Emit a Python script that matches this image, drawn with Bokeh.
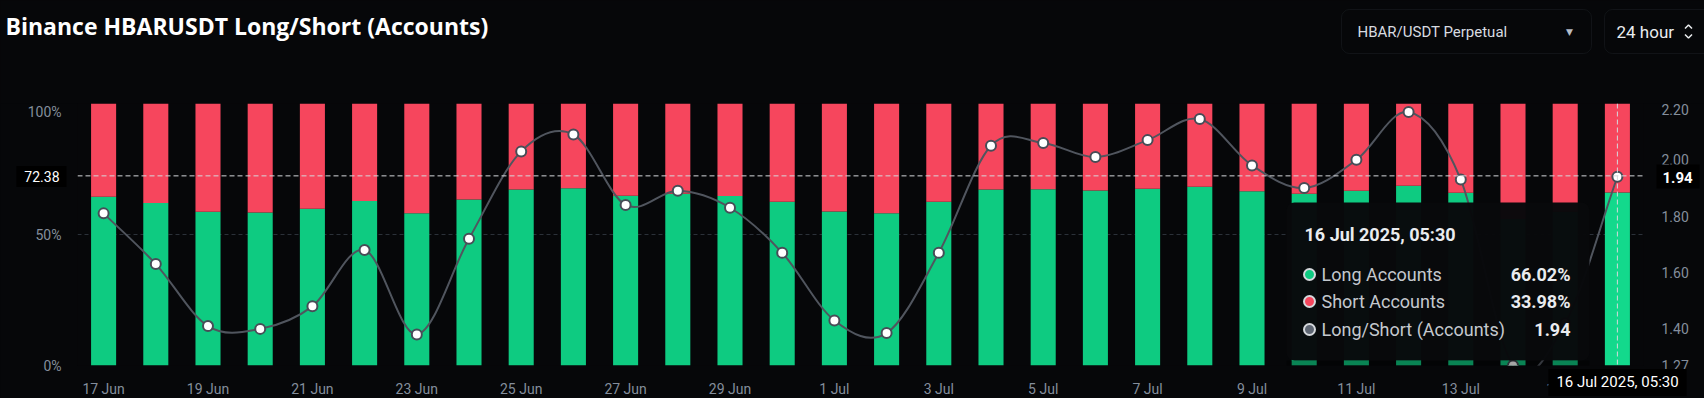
from bokeh.plotting import figure
from bokeh.layouts import column
from bokeh.models import (ColumnDataSource, Range1d, LinearAxis, FixedTicker,
                          PrintfTickFormatter, Span, Label, BoxAnnotation,
                          GlobalInlineStyleSheet)
from bokeh.embed import file_html
from bokeh.resources import INLINE

# ---------------- data ----------------
dates = ["17 Jun", "18 Jun", "19 Jun", "20 Jun", "21 Jun", "22 Jun", "23 Jun", "24 Jun",
         "25 Jun", "26 Jun", "27 Jun", "28 Jun", "29 Jun", "30 Jun", "1 Jul", "2 Jul",
         "3 Jul", "4 Jul", "5 Jul", "6 Jul", "7 Jul", "8 Jul", "9 Jul", "10 Jul",
         "11 Jul", "12 Jul", "13 Jul", "14 Jul", "15 Jul", "16 Jul"]
long_pct = [64.4, 62.0, 58.7, 58.4, 59.8, 62.8, 58.1, 63.4, 67.2, 67.7,
            64.8, 65.6, 64.7, 62.5, 58.8, 58.1, 62.5, 67.2, 67.3, 66.8,
            67.5, 68.2, 66.5, 65.6, 66.7, 68.6, 65.9, 55.9, 58.7, 66.02]
short_pct = [35.6, 38.0, 41.3, 41.6, 40.2, 37.2, 41.9, 36.6, 32.8, 32.3,
             35.2, 34.4, 35.3, 37.5, 41.2, 41.9, 37.5, 32.8, 32.7, 33.2,
             32.5, 31.8, 33.5, 34.4, 33.3, 31.4, 34.1, 44.1, 41.3, 33.98]
ls_ratio = [1.81, 1.63, 1.41, 1.40, 1.48, 1.68, 1.38, 1.72, 2.03, 2.09,
            1.84, 1.89, 1.83, 1.67, 1.43, 1.385, 1.67, 2.05, 2.06, 2.01,
            2.07, 2.145, 1.98, 1.90, 2.00, 2.17, 1.93, 1.27, 1.42, 1.94]
pct_ticks = [0, 50, 100]
ratio_ticks = [1.27, 1.40, 1.60, 1.80, 2.00, 2.20]
hover_index = 29
hover_time = "16 Jul 2025, 05:30"
cursor_pct = 72.38
cursor_ratio = 1.94
title_text = "Binance HBARUSDT Long/Short (Accounts)"
symbol_text = "HBAR/USDT Perpetual"
period_text = "24 hour"

# ---------------- style ----------------
BG = "#060709"
GREEN = "#0ecb81"
GREEN_HI = "#13d98c"
RED = "#f6465d"
GRID = "#2b3139"
AXIS_TXT = "#848e9c"
LINE = "#50555e"
FONT = "Roboto"

W, H = 1704, 397
HDR_H = 103
FL, FT, FW, FH = 77, 103, 1566, 262
N = len(dates)


def dx(ax):
    return -0.5 + (ax - FL) / FW * N


def dy(ay):
    return (FT + FH - ay) / FH * 100.0


def plain_fig(height, bg):
    f = figure(width=W, height=height, min_border=0, output_backend="svg",
               toolbar_location=None, title_location=None,
               x_axis_location=None, y_axis_location=None, frame_align=False,
               x_range=Range1d(0, W), y_range=Range1d(0, height),
               background_fill_color=bg, border_fill_color=bg, outline_line_color=None)
    f.grid.visible = False
    return f


def plab(fig_h, text, ax, ay, size, color, style="normal", align="left", font=FONT, **kw):
    return Label(x=ax, y=fig_h - ay, text=text, text_font=font,
                 text_font_size=f"{size}px", text_color=color, text_font_style=style,
                 text_align=align, text_baseline="middle", **kw)


def flab(text, ax, ay, size, color, style="normal", align="left", **kw):
    return Label(x=ax - FL, y=FT + FH - ay, x_units="screen", y_units="screen",
                 text=text, text_font=FONT, text_font_size=f"{size}px",
                 text_color=color, text_font_style=style, text_align=align,
                 text_baseline="middle", **kw)


# ---------------- header ----------------
hdr = plain_fig(HDR_H, BG)
hdr.add_layout(plab(HDR_H, title_text, 5, 25, 23, "#ffffff", style="bold", font="Open Sans"))
hdr.add_layout(BoxAnnotation(left=1341, right=1591, top=HDR_H - 9, bottom=HDR_H - 53,
                             fill_color=None, line_color="#2b3139", line_width=1,
                             border_radius=8))
hdr.add_layout(plab(HDR_H, symbol_text, 1357, 31, 15, "#d8dbe0"))
hdr.add_layout(plab(HDR_H, "\u25bc", 1569, 31, 9, "#b7bdc6", align="center", font="DejaVu Sans"))
hdr.add_layout(BoxAnnotation(left=1604, right=1730, top=HDR_H - 9, bottom=HDR_H - 53,
                             fill_color=None, line_color="#2b3139", line_width=1,
                             border_radius=8))
hdr.add_layout(plab(HDR_H, period_text, 1616, 31, 17, "#eaecef"))
# up / down chevrons of the period selector
hdr.multi_line(xs=[[1684.5, 1688, 1691.5], [1684.5, 1688, 1691.5]],
               ys=[[HDR_H - 28, HDR_H - 24.5, HDR_H - 28], [HDR_H - 34, HDR_H - 37.5, HDR_H - 34]],
               line_color="#eaecef", line_width=1.5)

# ---------------- main chart ----------------
chart = figure(frame_width=FW, frame_height=FH, min_border_left=FL,
               min_border_right=W - FL - FW, min_border_top=0,
               min_border_bottom=H - HDR_H - FH, output_backend="svg",
               toolbar_location=None, title_location=None, frame_align=False,
               x_range=Range1d(-0.5, N - 0.5), y_range=Range1d(0, 100),
               background_fill_color=BG, border_fill_color=BG, outline_line_color=None)
chart.extra_y_ranges = {"ratio": Range1d(ratio_ticks[0], ratio_ticks[-1])}

xs = list(range(N))
src = ColumnDataSource(dict(
    x=xs,
    long=long_pct,
    top=[l + s for l, s in zip(long_pct, short_pct)],
    gfill=[GREEN_HI if i == hover_index else GREEN for i in xs],
    ratio=ls_ratio,
))

chart.vbar(x="x", width=0.48, bottom=0, top="long", fill_color="gfill", line_color=None, source=src)
chart.vbar(x="x", width=0.48, bottom="long", top="top", fill_color=RED, line_color=None, source=src)


def tangent(i):
    if i == 0:
        return ls_ratio[1] - ls_ratio[0]
    if i == N - 1:
        return ls_ratio[N - 1] - ls_ratio[N - 2]
    return (ls_ratio[i + 1] - ls_ratio[i - 1]) / 2.0


seg = dict(x0=[], y0=[], x1=[], y1=[], cx0=[], cy0=[], cx1=[], cy1=[])
for i in range(N - 1):
    seg["x0"].append(i); seg["y0"].append(ls_ratio[i])
    seg["x1"].append(i + 1); seg["y1"].append(ls_ratio[i + 1])
    seg["cx0"].append(i + 1 / 3); seg["cy0"].append(ls_ratio[i] + tangent(i) / 3)
    seg["cx1"].append(i + 1 - 1 / 3); seg["cy1"].append(ls_ratio[i + 1] - tangent(i + 1) / 3)
chart.bezier(x0="x0", y0="y0", x1="x1", y1="y1", cx0="cx0", cy0="cy0", cx1="cx1", cy1="cy1",
             source=ColumnDataSource(seg), line_color=LINE, line_width=2, y_range_name="ratio")
chart.scatter(x="x", y="ratio", source=src, size=10, fill_color="white", line_color="#474d57",
              line_width=2, y_range_name="ratio")

chart.xaxis.ticker = FixedTicker(ticks=xs[::2])
chart.xaxis.major_label_overrides = {i: dates[i] for i in xs[::2]}
chart.yaxis.ticker = FixedTicker(ticks=pct_ticks)
chart.yaxis.formatter = PrintfTickFormatter(format="%d%%")
chart.yaxis.major_label_standoff = 10
chart.xaxis.major_label_standoff = 9

ax_r = LinearAxis(y_range_name="ratio", ticker=FixedTicker(ticks=ratio_ticks),
                  formatter=PrintfTickFormatter(format="%.2f"))
ax_r.major_label_standoff = 12
chart.add_layout(ax_r, "right")

for a in [chart.xaxis[0], chart.yaxis[0], ax_r]:
    a.axis_line_color = None
    a.major_tick_line_color = None
    a.minor_tick_line_color = None
    a.major_label_text_color = AXIS_TXT
    a.major_label_text_font = FONT
    a.major_label_text_font_size = "14px"

chart.xgrid.visible = False
chart.ygrid.grid_line_color = GRID
chart.ygrid.grid_line_dash = "4 3"
chart.ygrid.grid_line_width = 1

# tooltip panel (with its soft shadow below)
chart.add_layout(BoxAnnotation(left=dx(1286), right=dx(1589), top=dy(360), bottom=dy(366),
                               fill_color="#000000", fill_alpha=0.35, line_color=None))
chart.add_layout(BoxAnnotation(left=dx(1286), right=dx(1589), top=dy(202), bottom=dy(360),
                               fill_color="#08090b", fill_alpha=0.98, line_color=None,
                               border_radius=8))

# crosshair lines
chart.add_layout(Span(location=hover_index, dimension="height", line_color="#d5d8dc",
                      line_dash="5 3", line_width=1))
chart.add_layout(Span(location=cursor_pct, dimension="width", line_color="#d5d8dc",
                      line_dash="5 3", line_width=1))

# tooltip content
chart.add_layout(flab(hover_time, 1304, 234, 18, "#eaecef", style="bold"))
rows = [("Long Accounts", f"{long_pct[hover_index]:.2f}%", GREEN, 274),
        ("Short Accounts", f"{short_pct[hover_index]:.2f}%", RED, 301),
        ("Long/Short (Accounts)", f"{ls_ratio[hover_index]:.2f}", "#5e6673", 329)]
for name, val, col, ay in rows:
    chart.add_layout(flab(name, 1321, ay, 18, "#c4c8ce"))
    chart.add_layout(flab(val, 1570, ay, 18, "#eaecef", style="bold", align="right"))
chart.scatter(x=[dx(1309)] * 3, y=[dy(r[3]) for r in rows], size=11,
              fill_color=[r[2] for r in rows], line_color="#d5d8dc", line_width=2,
              level="overlay")

# ---------------- crosshair value tags (transparent overlay) ----------------
ovl = plain_fig(H, None)
ovl.css_classes = ["ovl"]
ovl.styles = {"position": "absolute", "left": "0px", "top": "0px"}
ovl.add_layout(plab(H, f"{cursor_pct:.2f}", 66, 176, 14, "#ffffff", align="right",
                    background_fill_color="#000000",
                    padding=dict(left=8, right=7, top=5, bottom=5)))
ovl.add_layout(plab(H, f"{cursor_ratio:.2f}", 1656, 176, 15, "#ffffff", style="bold",
                    background_fill_color="#000000",
                    padding=dict(left=6, right=7, top=7, bottom=6)))
ovl.add_layout(plab(H, hover_time, 1617, 382, 15, "#ffffff", align="center",
                    background_fill_color="#000000",
                    padding=dict(left=8, right=8, top=4, bottom=5)))

p = column(hdr, chart, ovl, spacing=0)
p.stylesheets = [GlobalInlineStyleSheet(css=(
    "html, body { background-color: %s; margin: 0; }\n"
    ".ovl { position: absolute !important; left: 0 !important; top: 0 !important; }" % BG))]

open("out.html", "w").write(file_html(p, INLINE))
